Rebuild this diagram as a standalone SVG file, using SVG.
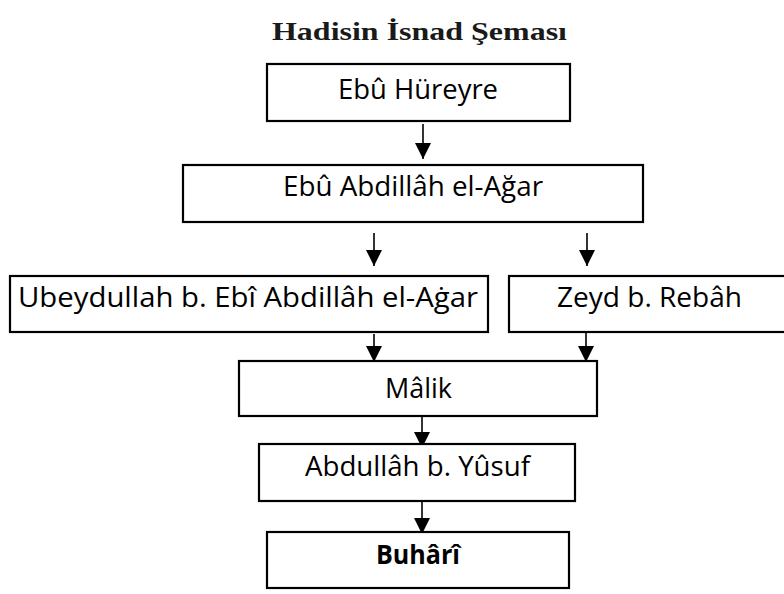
<svg xmlns="http://www.w3.org/2000/svg" width="784" height="594" viewBox="0 0 784 594">
<style>
.box{fill:#fff;stroke:#000;stroke-width:2.2}
.t{font-family:"Open Sans","Noto Sans","DejaVu Sans",sans-serif;font-size:27px;fill:#000;text-anchor:start}
.title{font-family:"Liberation Serif","DejaVu Serif",serif;font-size:26px;font-weight:bold;fill:#1a1a1a}
.c{stroke:#000;stroke-width:1.6;fill:none;marker-end:url(#ah)}
</style>
<defs>
<marker id="ah" markerUnits="userSpaceOnUse" markerWidth="16" markerHeight="16" refX="16" refY="8" orient="auto" viewBox="0 0 16 16">
<path d="M0,0 L16,8 L0,16 z" fill="#000"/>
</marker>
</defs>
<text class="title" x="272" y="40" textLength="295" lengthAdjust="spacingAndGlyphs">Hadisin İsnad Şeması</text>
<g id="connectors">
<path class="c" d="M423,124 V159"/>
<path class="c" d="M374,233 V266"/>
<path class="c" d="M587,233 V266"/>
<path class="c" d="M374,334 V362"/>
<path class="c" d="M586,328 V362"/>
<path class="c" d="M422,416 V448"/>
<path class="c" d="M422,502 V534"/>
</g>
<g id="n1"><rect class="box" x="267" y="64" width="303" height="57"/><text class="t" x="338" y="99" textLength="160" lengthAdjust="spacingAndGlyphs">Ebû Hüreyre</text></g>
<g id="n2"><rect class="box" x="183" y="165" width="460" height="57"/><text class="t" x="283" y="196" textLength="260" lengthAdjust="spacingAndGlyphs">Ebû Abdillâh el-Ağar</text></g>
<g id="n3"><rect class="box" x="10" y="276" width="478" height="56"/><text class="t" x="18" y="307" textLength="460" lengthAdjust="spacingAndGlyphs">Ubeydullah b. Ebî Abdillâh el-Aġar</text></g>
<g id="n4"><rect class="box" x="509" y="276" width="290" height="56"/><text class="t" x="557" y="307" textLength="185" lengthAdjust="spacingAndGlyphs">Zeyd b. Rebâh</text></g>
<g id="n5"><rect class="box" x="239" y="361" width="358" height="55"/><text class="t" x="385" y="398" textLength="67" lengthAdjust="spacingAndGlyphs">Mâlik</text></g>
<g id="n6"><rect class="box" x="259" y="444" width="316" height="57"/><text class="t" x="305" y="476" textLength="225" lengthAdjust="spacingAndGlyphs">Abdullâh b. Yûsuf</text></g>
<g id="n7"><rect class="box" x="267" y="532" width="302" height="56"/><text class="t" x="376" y="564" font-weight="bold" textLength="84" lengthAdjust="spacingAndGlyphs">Buhârî</text></g>
</svg>
